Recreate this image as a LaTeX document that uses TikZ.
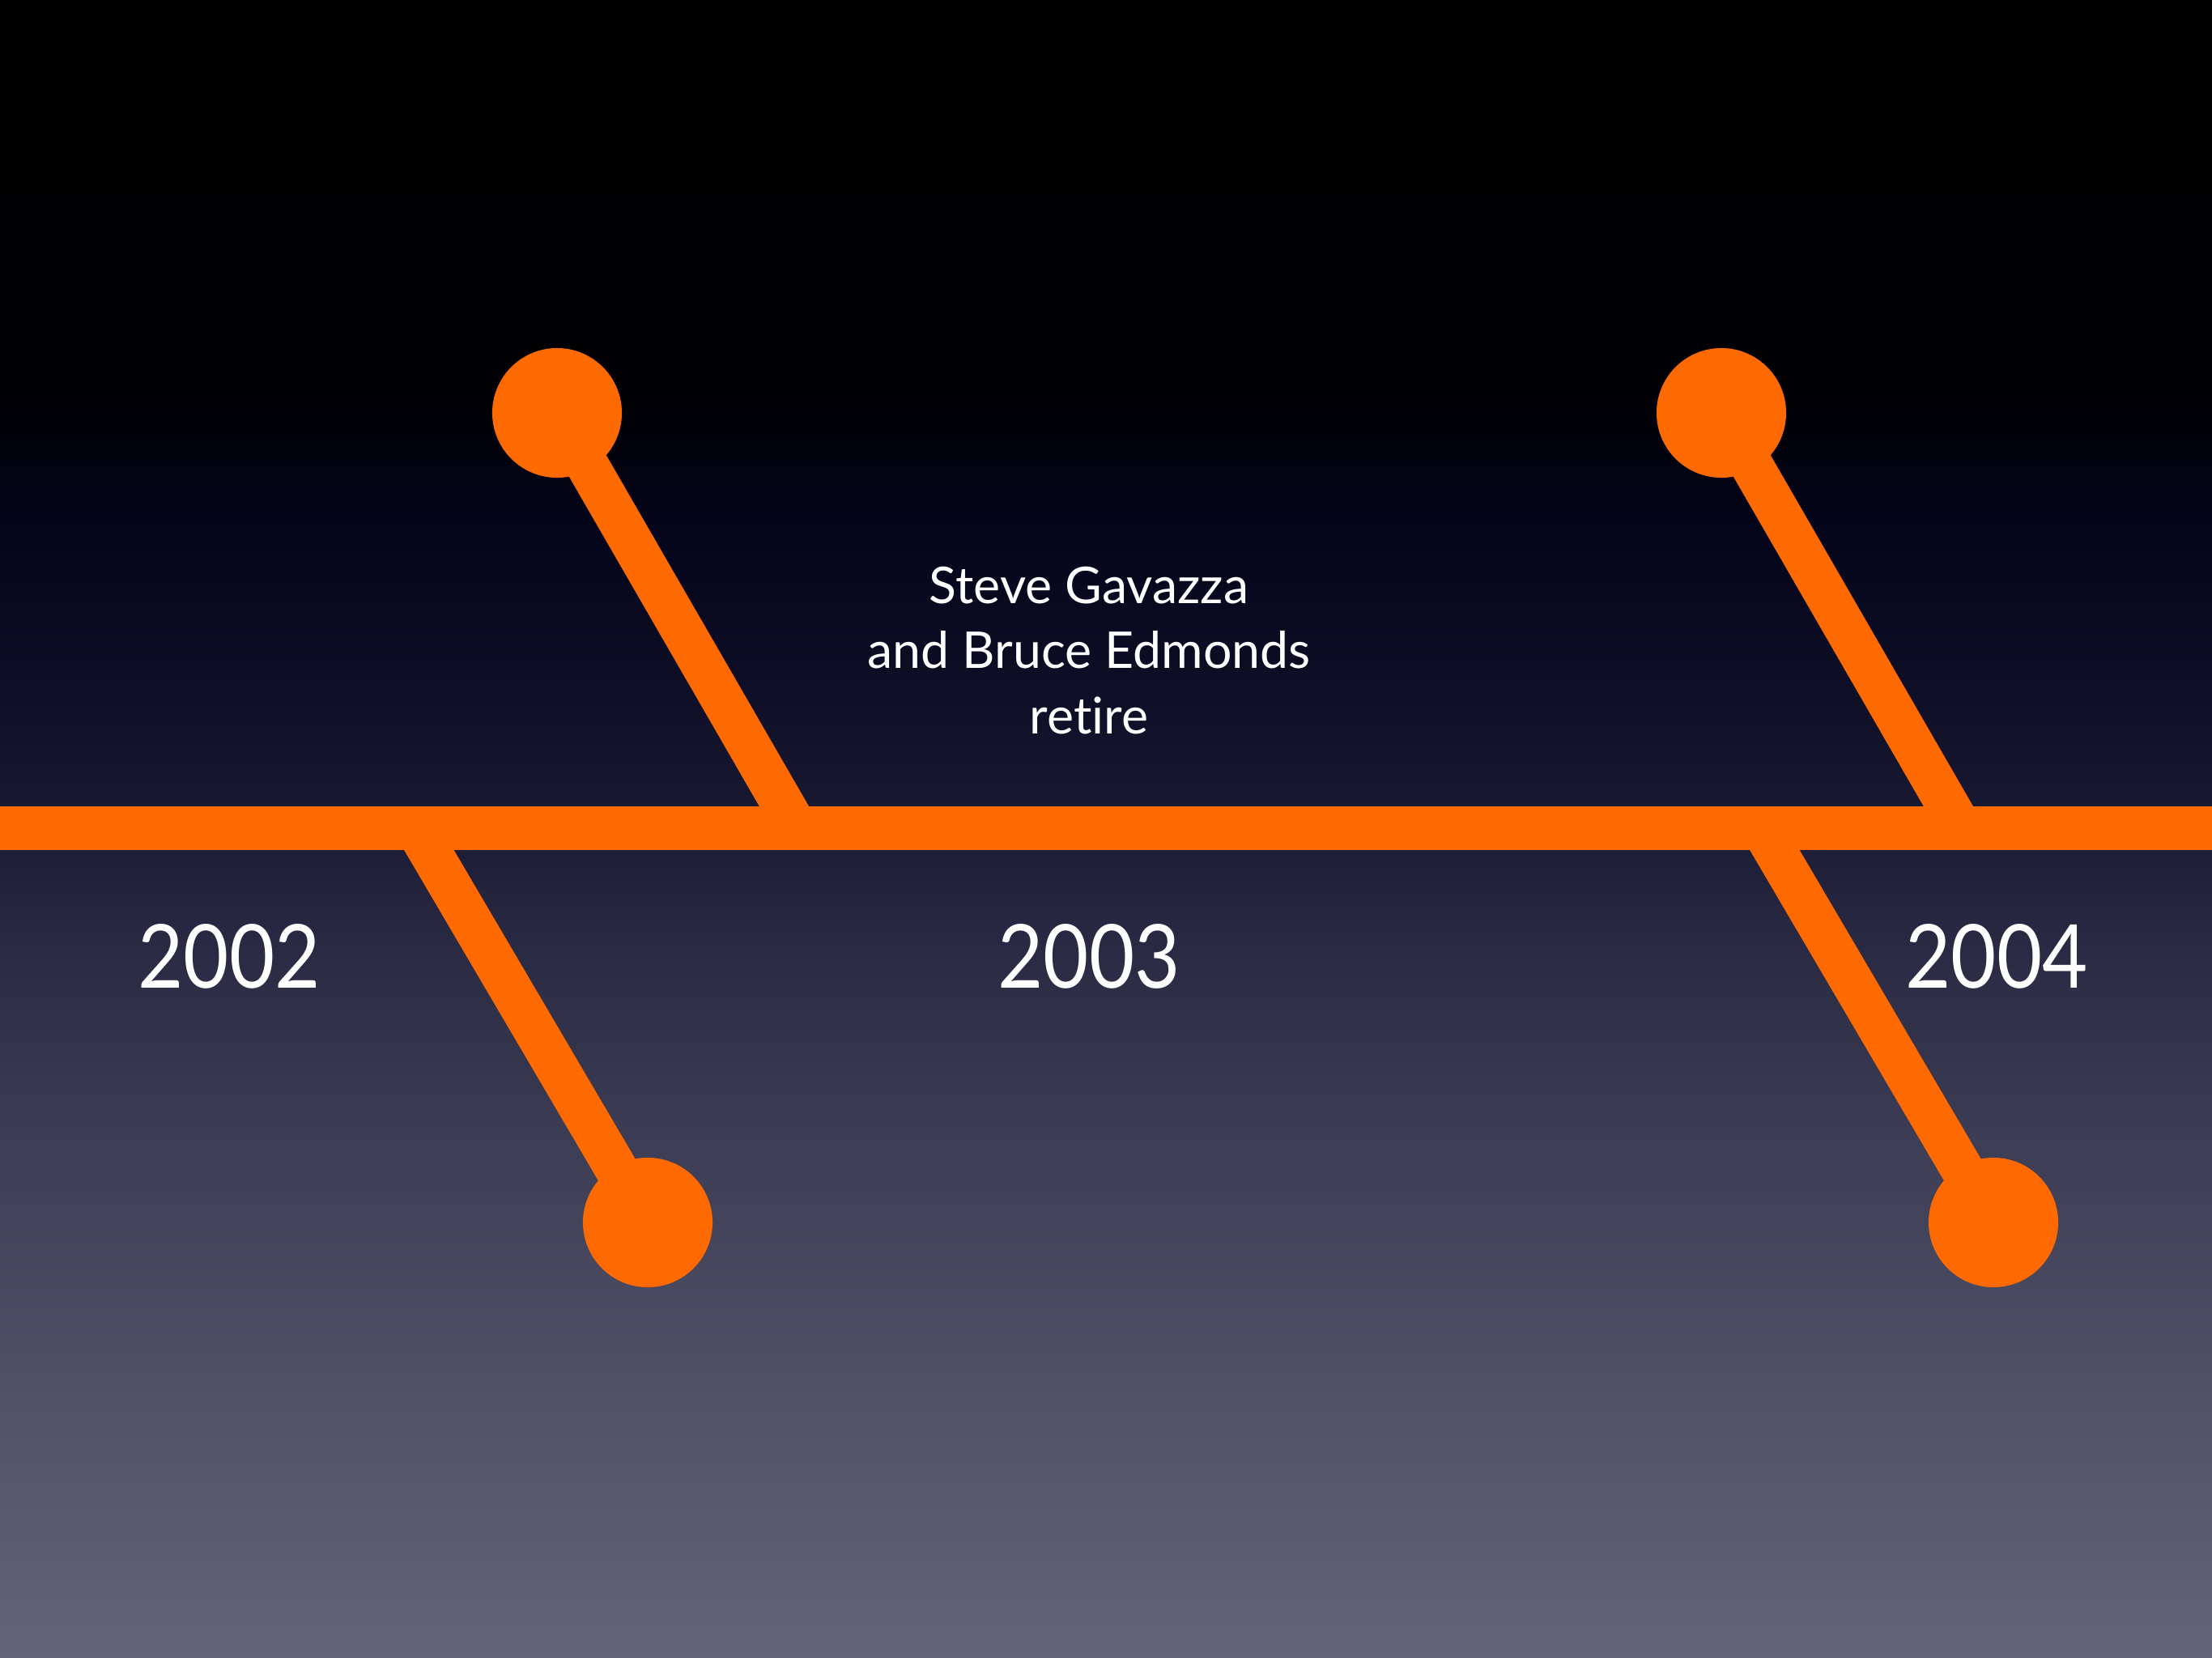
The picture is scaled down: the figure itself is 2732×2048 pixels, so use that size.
\documentclass[tikz,border=0pt]{standalone}
\usepackage{fontspec}
\setmainfont{Lato}
\definecolor{tlorange}{RGB}{255,106,0}
\definecolor{bgA}{RGB}{100,100,120}
\definecolor{bgB}{RGB}{79,79,102}
\definecolor{bgC}{RGB}{60,60,84}
\definecolor{bgD}{RGB}{40,40,66}
\definecolor{bgE}{RGB}{24,24,50}
\definecolor{bgF}{RGB}{14,14,38}
\definecolor{bgG}{RGB}{4,4,26}
\definecolor{bgH}{RGB}{0,0,3}
\pgfdeclareverticalshading{slidebg}{100bp}{%
  color(0bp)=(bgA); color(25bp)=(bgA); color(33.5bp)=(bgB); color(40.8bp)=(bgC);
  color(46.9bp)=(bgD); color(50.6bp)=(bgE); color(54.2bp)=(bgF); color(59.1bp)=(bgG);
  color(63.3bp)=(bgH); color(75bp)=(black); color(100bp)=(black)}
\newcommand{\yeartext}[1]{\scalebox{0.89}[1]{#1}}
\tikzset{
  dot/.style={circle, fill=tlorange, draw=none, minimum size=1.6cm, inner sep=0pt},
  stem/.style={draw=tlorange, line width=0.53cm},
  year/.style={text=white, font=\fontsize{31}{37}\selectfont, anchor=base, inner sep=0pt},
  note/.style={text=white, font=\fontsize{17.8}{22.8}\selectfont, align=center, inner sep=0pt}
}
\begin{document}
\begin{tikzpicture}[x=0.01cm, y=-0.01cm]
  \useasboundingbox (0,0) rectangle (2732,2048);
  \shade[shading=slidebg] (0,0) rectangle (2732,2048);
  % timeline bar
  \coordinate (L) at (0,1023);
  \coordinate (R) at (2732,1023);
  % junctions on the bar
  \coordinate (j1) at (984,1023);
  \coordinate (j2) at (514,1023);
  \coordinate (j3) at (2422,1023);
  \coordinate (j4) at (2176,1023);
  % dots
  \node[dot] (c1) at (688,510) {};
  \node[dot] (c2) at (800,1510) {};
  \node[dot] (c3) at (2126,510) {};
  \node[dot] (c4) at (2462,1510) {};
  \draw[stem] (c1.center) -- (j1);
  \draw[stem] (c2.center) -- (j2);
  \draw[stem] (c3.center) -- (j3);
  \draw[stem] (c4.center) -- (j4);
  \draw[stem] (L) -- (R);
  % labels
  \node[year] (y2002) at (283,1220) {\yeartext{2002}};
  \node[year] (y2003) at (1345,1220) {\yeartext{2003}};
  \node[year] (y2004) at (2466,1220) {\yeartext{2004}};
  \node[note, anchor=base] (retire) at (1345,906) {Steve Gavazza\\and Bruce Edmonds\\ret\kern0pt ire};
\end{tikzpicture}
\end{document}
